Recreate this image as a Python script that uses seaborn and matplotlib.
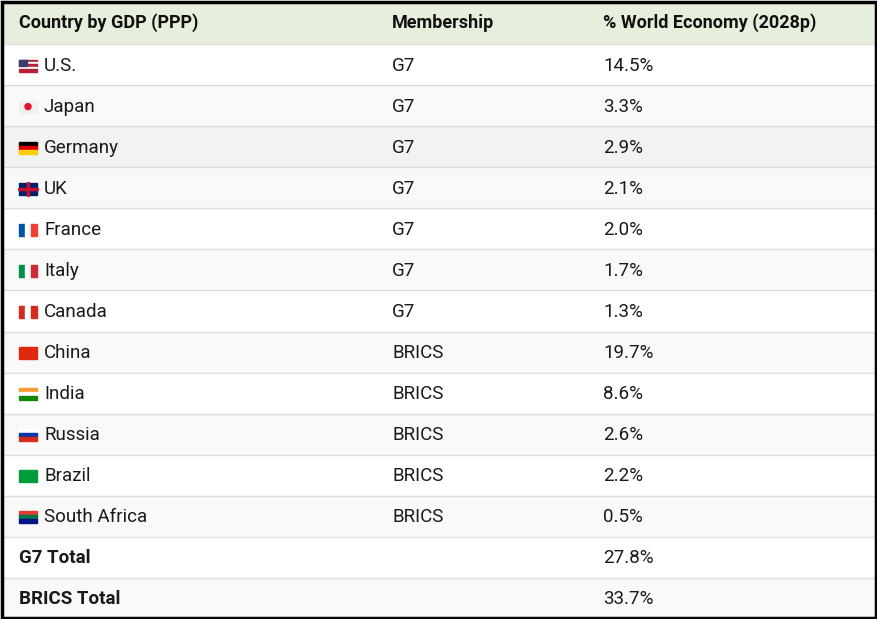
import matplotlib
matplotlib.use("Agg")
import matplotlib.pyplot as plt
import seaborn as sns
from matplotlib.patches import Rectangle

# table data
headers = ["Country by GDP (PPP)", "Membership", "% World Economy (2028p)"]
countries = ["U.S.", "Japan", "Germany", "UK", "France", "Italy", "Canada",
             "China", "India", "Russia", "Brazil", "South Africa"]
membership = ["G7"] * 7 + ["BRICS"] * 5
shares = ["14.5%", "3.3%", "2.9%", "2.1%", "2.0%", "1.7%", "1.3%",
          "19.7%", "8.6%", "2.6%", "2.2%", "0.5%"]
totals = ["G7 Total", "BRICS Total"]
total_shares = ["27.8%", "33.7%"]

# crude flag stripes: (orientation, colours)
flags = {
    "U.S.": ("h", ["#b22234", "#ffffff", "#b22234", "#ffffff", "#b22234"]),
    "Japan": ("h", ["#f0f0f0"]),
    "Germany": ("h", ["#000000", "#dd0000", "#ffce00"]),
    "UK": ("h", ["#012169"]),
    "France": ("v", ["#0055a4", "#ffffff", "#ef4135"]),
    "Italy": ("v", ["#009246", "#ffffff", "#ce2b37"]),
    "Canada": ("v", ["#d52b1e", "#ffffff", "#d52b1e"]),
    "China": ("h", ["#de2910"]),
    "India": ("h", ["#ff9933", "#ffffff", "#138808"]),
    "Russia": ("h", ["#ffffff", "#0039a6", "#d52b1e"]),
    "Brazil": ("h", ["#009c3b"]),
    "South Africa": ("h", ["#e03c31", "#007749", "#001489"]),
}

sns.set_theme(style="white")
plt.rcParams["font.family"] = ["Roboto", "DejaVu Sans"]

W, H = 877, 619
fig = plt.figure(figsize=(W / 100, H / 100), dpi=100)
ax = fig.add_axes([0, 0, 1, 1])
ax.set_xlim(0, W)
ax.set_ylim(H, 0)
ax.axis("off")

col_x = [19, 392, 603]
header_h = 44
row_h = (H - header_h) / 14
fs = 13.5

ax.add_patch(Rectangle((3, 3), W - 6, header_h - 3, color="#e6eedc", zorder=0))
for j, h in enumerate(headers):
    ax.text(col_x[j], header_h / 2 + 1, h, fontsize=fs - 0.5, fontweight="bold",
            color="#111111", va="center")

rows = [(c, m, s, False) for c, m, s in zip(countries, membership, shares)]
rows += [(t, "", s, True) for t, s in zip(totals, total_shares)]

for i, (c, m, s, bold) in enumerate(rows):
    top = header_h + i * row_h
    bg = "#f9f9f9" if i % 2 == 1 else "#ffffff"
    if c == "Germany":
        bg = "#f2f2f2"
    ax.add_patch(Rectangle((3, top), W - 6, row_h, color=bg, zorder=0))
    ax.plot([3, W - 3], [top, top], color="#dddddd", lw=1, zorder=1)
    yc = top + row_h / 2 + 1
    tx = col_x[0]
    if not bold:
        orient, cols = flags[c]
        fx, fy, fw, fh = 19, yc - 6, 18, 12
        n = len(cols)
        for k, col in enumerate(cols):
            if orient == "h":
                r = Rectangle((fx, fy + k * fh / n), fw, fh / n, color=col, zorder=2)
            else:
                r = Rectangle((fx + k * fw / n, fy), fw / n, fh, color=col, zorder=2)
            ax.add_patch(r)
        if c == "Japan":
            ax.add_patch(plt.Circle((fx + fw / 2, yc), 3, color="#e8112d", zorder=3))
        if c == "U.S.":
            ax.add_patch(Rectangle((fx, fy), 8, 6, color="#3c3b6e", zorder=3))
        if c == "UK":
            ax.plot([fx, fx + fw], [yc, yc], color="#c8102e", lw=2.5, zorder=3)
            ax.plot([fx + fw / 2] * 2, [fy, fy + fh], color="#c8102e", lw=2.5, zorder=3)
        tx = 44
    ax.text(tx, yc, c, fontsize=fs, fontweight="bold" if bold else "normal",
            color="#1a1a1a", va="center")
    ax.text(col_x[1], yc, m, fontsize=fs, color="#1a1a1a", va="center")
    ax.text(col_x[2], yc, s, fontsize=fs, color="#1a1a1a", va="center")

ax.add_patch(Rectangle((1.5, 1.5), W - 3, H - 3, fill=False, ec="black", lw=2.5, zorder=5))

fig.savefig("out.png", dpi=100)
